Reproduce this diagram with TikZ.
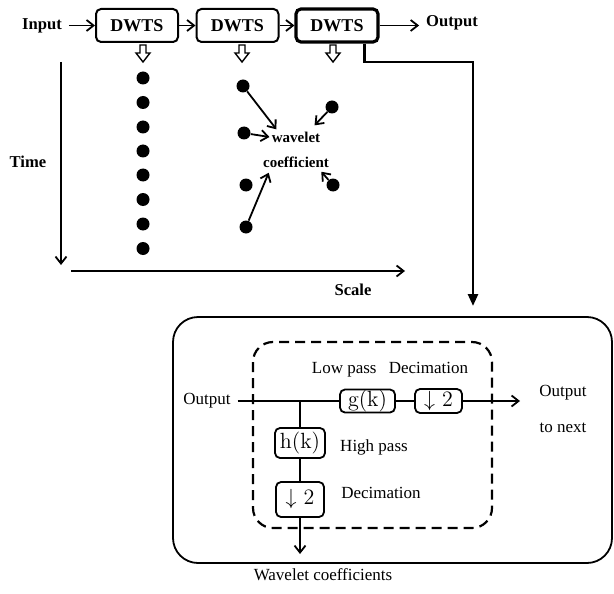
\documentclass[tikz,border=0pt]{standalone}
\usepackage{fontspec}
\usepackage{tikz}
\usetikzlibrary{arrows.meta}
\newfontfamily\tnr{Liberation Serif}

\begin{document}
\begin{tikzpicture}[x=0.5pt,y=-0.5pt,
  dwts/.style={draw,line width=1pt,rounded corners=2.5pt,minimum width=41pt,minimum height=16.5pt,inner sep=0pt,font=\tnr\bfseries\fontsize{9}{10}\selectfont},
  bold/.style={font=\tnr\bfseries\fontsize{8.3}{10}\selectfont},
  coef/.style={font=\tnr\bfseries\fontsize{7.5}{9}\selectfont,inner sep=1pt},
  plain/.style={font=\tnr\fontsize{8.5}{10}\selectfont},
  filt/.style={draw,line width=0.9pt,rounded corners=2.5pt,inner sep=0pt,font=\fontsize{11}{12}\selectfont},
  dot/.style={circle,fill,inner sep=0pt,minimum size=6.5pt},
  arr/.style={-{Straight Barb[length=3.5pt,width=5.5pt]},line width=0.9pt},
  hollow/.style={draw,line width=0.7pt,fill=white}]
\useasboundingbox (0,0) rectangle (614,593);

% the chain of transforms
\node[bold] (inp) at (42,25.5) {Input};
\node[dwts] (b1) at (137,25.5) {DWTS};
\node[dwts] (b2) at (237.5,25.5) {DWTS};
\node[dwts,line width=1.6pt] (b3) at (337,25.5) {DWTS};
\node[bold] (out) at (452,23) {Output};
\draw[arr] (inp) -- (b1);
\draw[arr] (b1) -- (b2);
\draw[arr] (b2) -- (b3);
\draw[arr] (b3.east) -- (b3.east -| out.west);
\foreach \c in {143,242,333}
  \draw[hollow] (\c-3,45) -- (\c+3,45) -- (\c+3,53) -- (\c+7,53) -- (\c,62) -- (\c-7,53) -- (\c-3,53) -- cycle;

% time-scale plane
\draw[arr] (61,62) -- (61,265);
\draw[arr] (71,271) -- (405,271);
\node[bold] (time) at (28,162) {Time};
\node[bold] (scale) at (353,290) {Scale};
\foreach \y [count=\i] in {78,102.5,127,151,175,199.5,224,248.5}
  \node[dot] (s1-\i) at (143,\y) {};
\node[dot] (s2-1) at (243,86) {};
\node[dot] (s2-2) at (244,133) {};
\node[dot] (s2-3) at (246,185) {};
\node[dot] (s2-4) at (246,227) {};
\node[dot] (s3-1) at (332,107) {};
\node[dot] (s3-2) at (333,185) {};
\node[coef] (wav) at (296,137) {wavelet};
\node[coef] (cof) at (296,162) {coefficient};
\draw[arr] (s2-1) -- ([xshift=3.5pt]wav.north west);
\draw[arr] (s2-2) -- (wav.west);
\draw[arr] (s3-1) -- ([xshift=-4pt,yshift=2pt]wav.north east);
\draw[arr] (s2-4) -- ([xshift=4pt,yshift=-1.5pt]cof.south west);
\draw[arr] (s3-2) -- ([xshift=-5pt,yshift=-1pt]cof.south east);

% link to the detail
\coordinate (turn) at (473,62);
\coordinate (down) at (473,306);
\draw[line width=1.3pt,-{Triangle[length=6pt,width=5pt]}] ([xshift=-7.5pt]b3.south east) |- (turn) -- (down);

% one stage in detail
\draw[line width=0.9pt,rounded corners=12.5pt] (173,317) rectangle (612,563);
\draw[line width=1.1pt,dash pattern=on 5pt off 3pt,rounded corners=10pt] (253,342) rectangle (492,528);
\node[plain] (oin) at (207,401) {Output};
\node[filt,minimum width=27.5pt,minimum height=11.5pt] (g) at (367.5,401) {g(k)};
\node[filt,minimum width=23.5pt,minimum height=12pt] (dec1) at (438.5,401) {$\downarrow$ 2};
\node[filt,minimum width=25pt,minimum height=15pt] (h) at (300,443) {h(k)};
\node[filt,minimum width=24pt,minimum height=17.5pt] (dec2) at (300,499.5) {$\downarrow$ 2};
\coordinate (br) at (300,401);
\coordinate (onext) at (520,401);
\coordinate (wtip) at (300,554);
\draw[line width=0.9pt] (oin) -- (g);
\draw[line width=0.9pt] (g) -- (dec1);
\draw[line width=0.9pt] (br) -- (h);
\draw[line width=0.9pt] (h) -- (dec2);
\draw[arr] (dec1) -- (onext);
\draw[arr] (dec2) -- (wtip);
\node[plain] (o2) at (563,393) {Output};
\node[plain] (o3) at (563,428) {to next};
\node[plain] (low) at (390,370) {Low pass \hspace{4pt}Decimation};
\node[plain] (high) at (374,447) {High pass};
\node[plain] (dec) at (381,493) {Decimation};
\node[plain] (wc) at (323,575) {Wavelet coefficients};
\end{tikzpicture}
\end{document}
